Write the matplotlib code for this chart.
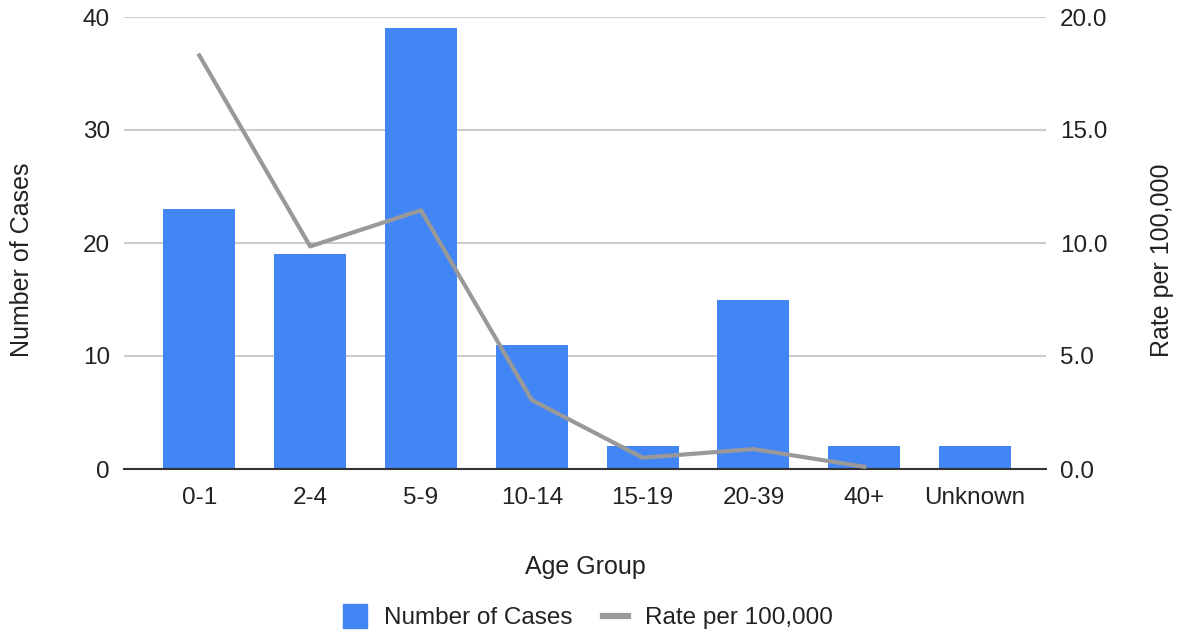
import matplotlib
matplotlib.use("Agg")
import matplotlib.pyplot as plt
from matplotlib.lines import Line2D

plt.rcParams['font.family'] = ['Liberation Sans', 'DejaVu Sans']

categories = ["0-1", "2-4", "5-9", "10-14", "15-19", "20-39", "40+", "Unknown"]
cases = [23, 19, 39, 11, 2, 15, 2, 2]
rate_categories = ["0-1", "2-4", "5-9", "10-14", "15-19", "20-39", "40+"]
rate = [18.3, 9.85, 11.45, 3.05, 0.5, 0.88, 0.1]

bar_color = "#4285F4"
line_color = "#999999"
text_color = "#222222"
fs = 17.5
title_fs = 18

fig = plt.figure(figsize=(11.79, 6.35), dpi=100)
ax = fig.add_axes([124/1179, 1-469/635, (1046-124)/1179, (469-17)/635])
ax2 = ax.twinx()

x = list(range(len(categories)))
ax.bar(x, cases, width=0.65, color=bar_color, zorder=2)
ax.set_ylim(0, 40)
ax.set_yticks([0, 10, 20, 30, 40])
ax.set_xlim(-0.68, 7.64)
ax.set_xticks(x)
ax.set_xticklabels(categories)
ax.grid(axis='y', color='#cccccc', linewidth=1.5, zorder=0)
ax.set_axisbelow(True)
for s in ['top', 'right', 'left']:
    ax.spines[s].set_visible(False)
ax.spines['bottom'].set_color('#333333')
ax.spines['bottom'].set_linewidth(1.5)
ax.tick_params(axis='both', length=0, labelsize=fs, colors=text_color, pad=10)
ax.tick_params(axis='x', pad=13)
ax.set_xlabel("Age Group", fontsize=title_fs, color=text_color, labelpad=33)
ax.set_ylabel("Number of Cases", fontsize=title_fs, color=text_color, labelpad=35)
ax.yaxis.label.set_y(0.462)

rx = [categories.index(c) for c in rate_categories]
ax2.plot(rx, rate, color=line_color, linewidth=3, zorder=3)
ax2.set_ylim(0, 20)
ax2.set_yticks([0, 5, 10, 15, 20])
ax2.set_yticklabels([f"{v:.1f}" for v in [0, 5, 10, 15, 20]])
for s in ['top', 'right', 'left', 'bottom']:
    ax2.spines[s].set_visible(False)
ax2.tick_params(axis='y', length=0, labelsize=fs, colors=text_color, pad=10)
ax2.set_ylabel("Rate per 100,000", fontsize=title_fs, color=text_color, labelpad=31)
ax2.yaxis.label.set_y(0.462)

handles = [Line2D([0], [0], marker='s', linestyle='none', markersize=17,
                  markerfacecolor=bar_color, markeredgecolor=bar_color, label="Number of Cases"),
           Line2D([0], [0], color=line_color, linewidth=4.5, label="Rate per 100,000")]
fig.legend(handles=handles, loc='center', bbox_to_anchor=(587.5/1179, 1-618/635), ncol=2,
           frameon=False, fontsize=fs, handlelength=1.05,
           columnspacing=1.23, handletextpad=0.7, labelcolor=text_color)

fig.savefig("out.png", dpi=100)
